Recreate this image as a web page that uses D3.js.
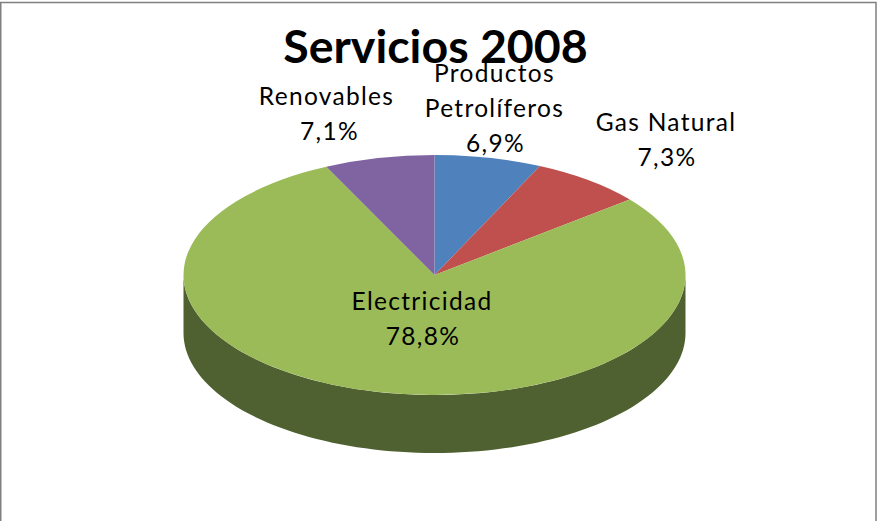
<!DOCTYPE html>
<html>
<head>
<meta charset="utf-8">
<script src="https://cdn.jsdelivr.net/npm/d3@7"></script>
<style>
  html, body { margin: 0; padding: 0; background: #fff; }
  svg { display: block; }
  text { font-family: Lato, "Open Sans", sans-serif; fill: #000; text-anchor: middle; }
  .title { font-size: 46.5px; font-weight: 700; }
  .label { font-size: 24.5px; letter-spacing: 1.3px; }
</style>
</head>
<body>
<svg id="chart"></svg>
<script>
var categories = ["Productos Petrolíferos", "Gas Natural", "Electricidad", "Renovables"];
var values = [6.9, 7.3, 78.8, 7.1];
var valueLabels = ["6,9%", "7,3%", "78,8%", "7,1%"];
var topColors = ["#4f81bd", "#c0504d", "#9bbb59", "#8064a2"];
var sideColor = "#4f6130";

var width = 877,
  height = 521,
  cx = 434.5,
  cy = 275,
  rx = 251,
  ry = 120,
  depth = 58;

var svg = d3.select("#chart")
  .attr("width", width)
  .attr("height", height);

// frame, the bottom edge is cut off in the picture
svg.append("path")
  .attr("d", "M0.75," + height + "V2.5H876V" + height)
  .attr("fill", "none")
  .attr("stroke", "#808080")
  .attr("stroke-width", 1.5);

var pie = d3.pie().sort(null);
var arc = d3.arc().innerRadius(0).outerRadius(rx);
var slices = pie(values);

// front wall of the disc, bottom half of the ellipse pushed down by depth
var wallAngles = d3.range(90, 271, 2).map(function(d) { return d * Math.PI / 180; });
var wall = d3.area()
  .x(function(a) { return cx + rx * Math.sin(a); })
  .y0(function(a) { return cy - ry * Math.cos(a); })
  .y1(function(a) { return cy + depth - ry * Math.cos(a); });

svg.append("path")
  .attr("d", wall(wallAngles))
  .attr("fill", sideColor);

// top of the disc, flat pie squashed in y
var top3d = svg.append("g")
  .attr("transform", "translate(" + cx + "," + cy + ") scale(1," + (ry / rx) + ")");

top3d.selectAll("path")
  .data(slices)
  .enter().append("path")
  .attr("d", arc)
  .attr("fill", function(d, i) { return topColors[i]; });

svg.append("text")
  .attr("class", "title")
  .attr("x", 435.5)
  .attr("y", 63)
  .text("Servicios 2008");

// label positions by hand, excel placed them
var labelPos = [
  { x: 494.5, y: 82, valueX: 495.5, lines: ["Productos", "Petrolíferos"] },
  { x: 666, y: 131, valueX: 667, lines: ["Gas Natural"] },
  { x: 422, y: 310, valueX: 423, lines: ["Electricidad"] },
  { x: 326.5, y: 105, valueX: 329.5, lines: ["Renovables"] }
];
var lineHeight = 35;

categories.forEach(function(name, i) {
  var p = labelPos[i];
  var t = svg.append("text")
    .attr("class", "label")
    .attr("x", p.x)
    .attr("y", p.y);
  p.lines.forEach(function(s, j) {
    t.append("tspan")
      .attr("x", p.x)
      .attr("dy", j ? lineHeight : 0)
      .text(s);
  });
  t.append("tspan")
    .attr("x", p.valueX)
    .attr("dy", lineHeight)
    .text(valueLabels[i]);
});
</script>
</body>
</html>
